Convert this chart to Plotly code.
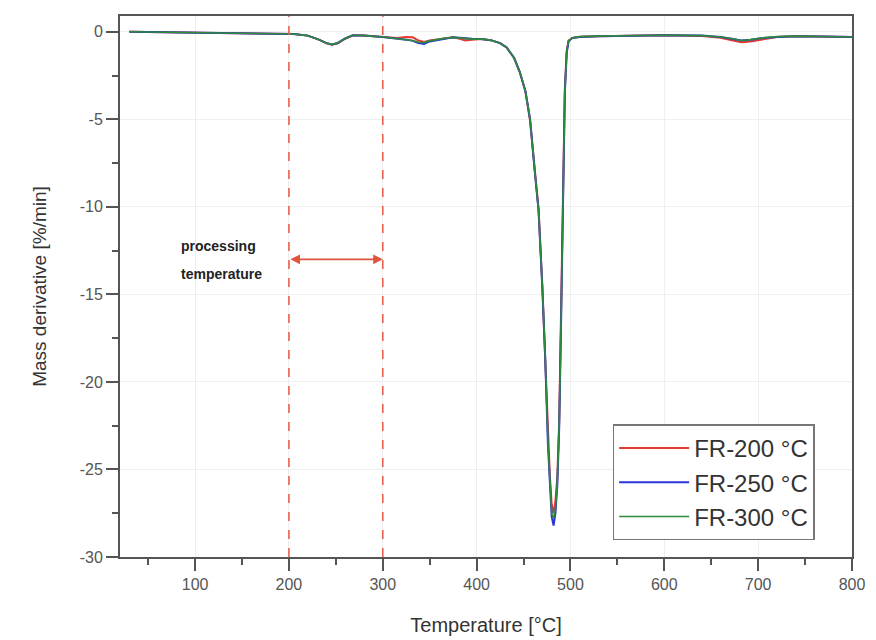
import plotly.graph_objects as go

# temperature grid [°C] shared by the three curves
temp = [30, 60, 100, 150, 190, 205, 220, 232, 240, 246, 252, 260, 268, 280, 300,
        315, 325, 332, 338, 344, 350, 356, 365, 375, 382, 388, 395, 405, 415, 425,
        432, 440, 446, 452, 457, 462, 466, 470, 473, 476, 478, 480, 482, 484, 486,
        488, 490, 492, 494, 496, 498, 502, 510, 530, 560, 600, 640, 660, 672, 682,
        692, 705, 720, 740, 770, 800]

fr200 = [0.0, -0.02, -0.05, -0.08, -0.1, -0.13, -0.22, -0.45, -0.66, -0.74, -0.66, -0.4, -0.22, -0.22, -0.3,
         -0.36, -0.3, -0.32, -0.5, -0.58, -0.5, -0.45, -0.38, -0.32, -0.4, -0.5, -0.46, -0.42, -0.48, -0.65,
         -0.9, -1.5, -2.3, -3.4, -5.1, -8.0, -10.1, -14.5, -18.3, -23.0, -25.3, -27.0, -27.5, -26.8, -25.4,
         -22.2, -16.3, -9.8, -3.3, -1.1, -0.5, -0.35, -0.28, -0.25, -0.22, -0.2, -0.24, -0.34, -0.48, -0.6,
         -0.55, -0.42, -0.3, -0.25, -0.27, -0.3]

fr250 = [0.0, -0.02, -0.05, -0.08, -0.1, -0.13, -0.22, -0.45, -0.65, -0.72, -0.64, -0.38, -0.2, -0.22, -0.3,
         -0.38, -0.45, -0.52, -0.64, -0.7, -0.55, -0.5, -0.4, -0.32, -0.34, -0.38, -0.4, -0.42, -0.48, -0.65,
         -0.9, -1.5, -2.3, -3.4, -5.0, -8.0, -10.2, -14.6, -18.5, -23.6, -26.0, -27.7, -28.2, -27.5, -25.9,
         -22.6, -16.6, -10.1, -3.5, -1.2, -0.55, -0.35, -0.3, -0.26, -0.22, -0.2, -0.22, -0.3, -0.4, -0.5,
         -0.45, -0.36, -0.3, -0.26, -0.27, -0.3]

fr300 = [0.0, -0.02, -0.05, -0.08, -0.1, -0.13, -0.22, -0.45, -0.65, -0.72, -0.65, -0.38, -0.2, -0.22, -0.3,
         -0.38, -0.45, -0.5, -0.6, -0.62, -0.52, -0.45, -0.38, -0.32, -0.35, -0.4, -0.42, -0.42, -0.48, -0.65,
         -0.9, -1.5, -2.3, -3.4, -5.0, -8.0, -10.2, -14.5, -18.4, -23.4, -25.8, -27.5, -27.8, -27.3, -25.7,
         -22.4, -16.5, -10.0, -3.4, -1.1, -0.5, -0.35, -0.28, -0.25, -0.22, -0.2, -0.22, -0.3, -0.4, -0.5,
         -0.45, -0.35, -0.28, -0.25, -0.27, -0.3]

names = ["FR-200 °C", "FR-250 °C", "FR-300 °C"]
colors = ["#e53935", "#2a36d8", "#2e8b3a"]
widths = [2, 2, 1.6]

# tick labels (plain hyphen minus like the original)
y_ticks = [0, -5, -10, -15, -20, -25, -30]
y_labels = ["0", "-5", "-10", "-15", "-20", "-25", "-30"]
x_ticks = [100, 200, 300, 400, 500, 600, 700, 800]

fig = go.Figure()
for vals, name, c, w in zip([fr200, fr250, fr300], names, colors, widths):
    fig.add_trace(go.Scatter(x=temp, y=vals, mode="lines", name=name,
                             line=dict(color=c, width=w)))

# processing window
for xv in [200, 300]:
    fig.add_shape(type="line", x0=xv, x1=xv, y0=0, y1=1, yref="paper",
                  line=dict(color="#e8604c", width=1.6, dash="dash"))

fig.add_annotation(x=300, y=-13, ax=200, ay=-13, axref="x", ayref="y",
                   xref="x", yref="y", text="", showarrow=True,
                   arrowside="end+start", arrowhead=2, arrowsize=1.2,
                   arrowwidth=1.6, arrowcolor="#e0533c")
fig.add_annotation(x=83, y=-12.25, text="<b>processing</b>", showarrow=False,
                   xanchor="left", font=dict(size=14, color="#222"))
fig.add_annotation(x=83, y=-13.85, text="<b>temperature</b>", showarrow=False,
                   xanchor="left", font=dict(size=14, color="#222"))

axis_common = dict(showline=True, linecolor="#555", linewidth=2, mirror=True,
                   ticks="outside", ticklen=12, tickwidth=1.5, tickcolor="#555",
                   showgrid=True, gridcolor="#efefef", gridwidth=1, zeroline=False,
                   tickfont=dict(size=16, color="#555"))

fig.update_xaxes(range=[20, 800], tickvals=x_ticks,
                 minor=dict(dtick=50, ticks="outside", ticklen=6, tickcolor="#555", showgrid=False),
                 title=dict(text="Temperature [°C]", font=dict(size=20, color="#333"), standoff=26),
                 **axis_common)
fig.update_yaxes(range=[-30, 0.9], tickvals=y_ticks, ticktext=y_labels,
                 minor=dict(dtick=2.5, ticks="outside", ticklen=6, tickcolor="#555", showgrid=False),
                 title=dict(text="Mass derivative [%/min]", font=dict(size=19, color="#333"), standoff=28),
                 **axis_common)

fig.update_layout(
    width=876, height=640,
    margin=dict(l=112, r=32, t=6, b=91),
    paper_bgcolor="white", plot_bgcolor="white",
    font=dict(family="Liberation Sans, Arial, sans-serif"),
    legend=dict(x=0.673, y=0.245, xanchor="left", yanchor="top",
                bgcolor="white", bordercolor="#777", borderwidth=1.5,
                itemwidth=70,
                font=dict(size=24, color="#333"), tracegroupgap=0),
)

fig.write_html("out.html")
